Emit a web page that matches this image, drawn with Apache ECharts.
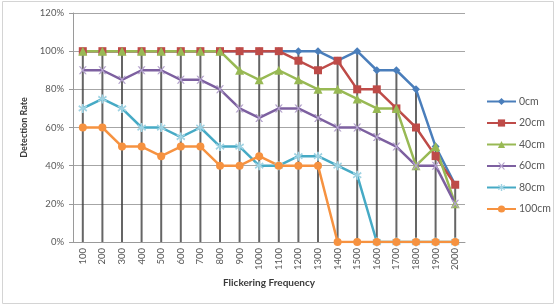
<!DOCTYPE html>
<html>
<head>
<meta charset="utf-8">
<script src="https://cdn.jsdelivr.net/npm/echarts@6/dist/echarts.min.js"></script>
<style>
  html, body { margin: 0; padding: 0; background: #fff; }
  #main { width: 557px; height: 306px; }
</style>
</head>
<body>
<div id="main"></div>
<script>
// categories (Hz)
var frequencies = ['100', '200', '300', '400', '500', '600', '700', '800', '900', '1000',
  '1100', '1200', '1300', '1400', '1500', '1600', '1700', '1800', '1900', '2000'];
var yTicks = [0, 20, 40, 60, 80, 100, 120];

// detection rate (%) per distance
var rate0cm   = [100, 100, 100, 100, 100, 100, 100, 100, 100, 100, 100, 100, 100, 95, 100, 90, 90, 80, 50, 30];
var rate20cm  = [100, 100, 100, 100, 100, 100, 100, 100, 100, 100, 100, 95, 90, 95, 80, 80, 70, 60, 45, 30];
var rate40cm  = [100, 100, 100, 100, 100, 100, 100, 100, 90, 85, 90, 85, 80, 80, 75, 70, 70, 40, 50, 20];
var rate60cm  = [90, 90, 85, 90, 90, 85, 85, 80, 70, 65, 70, 70, 65, 60, 60, 55, 50, 40, 40, 20];
var rate80cm  = [70, 75, 70, 60, 60, 55, 60, 50, 50, 40, 40, 45, 45, 40, 35, 0, 0, 0, 0, 0];
var rate100cm = [60, 60, 50, 50, 45, 50, 50, 40, 40, 45, 40, 40, 40, 0, 0, 0, 0, 0, 0, 0];

var seriesNames = ['0cm', '20cm', '40cm', '60cm', '80cm', '100cm'];
var allRates = [rate0cm, rate20cm, rate40cm, rate60cm, rate80cm, rate100cm];

// drop lines: from the highest value at each category down to the axis
var dropLine = frequencies.map(function (f, i) {
  return Math.max.apply(null, allRates.map(function (r) { return r[i]; }));
});

var colors = ['#4a7ebb', '#be4b48', '#98b954', '#7d60a0', '#46aac5', '#f69240'];
var symbols = [
  'diamond',
  'rect',
  'triangle',
  'path://M0,0 L2,0 L5,3 L8,0 L10,0 L6,4 L10,8 L8,8 L5,5 L2,8 L0,8 L4,4 Z',
  'path://M4,0 L6,0 L6,3 L9,1 L10,2.5 L7,4 L10,5.5 L9,7 L6,5 L6,8 L4,8 L4,5 L1,7 L0,5.5 L3,4 L0,2.5 L1,1 L4,3 Z',
  'circle'
];
var symbolSizes = [8, 8, 9, 8, 9, 8];
var symbolColors = ['#4a7ebb', '#be4b48', '#98b954', '#b3a2cc', '#9fd3e3', '#f69240'];

var chart = echarts.init(document.getElementById('main'));

var lineSeries = seriesNames.map(function (name, k) {
  return {
    name: name,
    type: 'line',
    data: allRates[k],
    symbol: symbols[k],
    symbolSize: symbolSizes[k],
    showAllSymbol: true,
    z: 3,
    lineStyle: { color: colors[k], width: 2.5 },
    itemStyle: { color: symbolColors[k], borderWidth: 0 },
    color: colors[k],
    emphasis: { disabled: true }
  };
});

var option = {
  animation: false,
  textStyle: { fontFamily: 'Lato, "Liberation Sans", sans-serif' },
  graphic: [{
    type: 'rect',
    shape: { x: 2.5, y: 1.5, width: 551, height: 302 },
    style: { fill: 'none', stroke: '#d4d4d4', lineWidth: 1 },
    silent: true
  }],
  grid: { left: 73, right: 92, top: 13, bottom: 64 },
  legend: {
    orient: 'vertical',
    left: 481,
    top: 91,
    itemWidth: 29,
    itemHeight: 9,
    itemGap: 10.5,
    data: seriesNames,
    textStyle: { fontSize: 10.5, color: '#595959', padding: [0, 0, 0, -2] }
  },
  xAxis: {
    type: 'category',
    data: frequencies,
    name: 'Flickering Frequency',
    nameLocation: 'middle',
    nameGap: 36,
    nameTextStyle: { fontSize: 10, fontWeight: 'bold', color: '#3a3a3a' },
    axisLine: { lineStyle: { color: '#9a9a9a', width: 1 } },
    axisTick: { show: false },
    axisLabel: { rotate: 90, fontSize: 9.5, color: '#595959', margin: 6 },
    splitLine: { show: false }
  },
  yAxis: {
    type: 'value',
    min: 0,
    max: 120,
    interval: 20,
    name: 'Detection Rate',
    nameLocation: 'middle',
    nameGap: 42,
    nameTextStyle: { fontSize: 9, fontWeight: 'bold', color: '#3a3a3a' },
    axisLine: { show: true, lineStyle: { color: '#9a9a9a', width: 1 } },
    axisTick: { show: true, length: 4, lineStyle: { color: '#9a9a9a' } },
    axisLabel: {
      fontSize: 9.5, color: '#595959', margin: 9,
      formatter: function (v) { return yTicks.indexOf(v) >= 0 ? v + '%' : ''; }
    },
    splitLine: { lineStyle: { color: '#a6a6a6', width: 1 } }
  },
  series: [{
    name: 'drop',
    type: 'bar',
    data: dropLine,
    barWidth: 2,
    z: 1,
    silent: true,
    itemStyle: { color: '#3f3f3f', opacity: 0.8 },
    emphasis: { disabled: true }
  }].concat(lineSeries)
};

chart.setOption(option);
</script>
</body>
</html>
